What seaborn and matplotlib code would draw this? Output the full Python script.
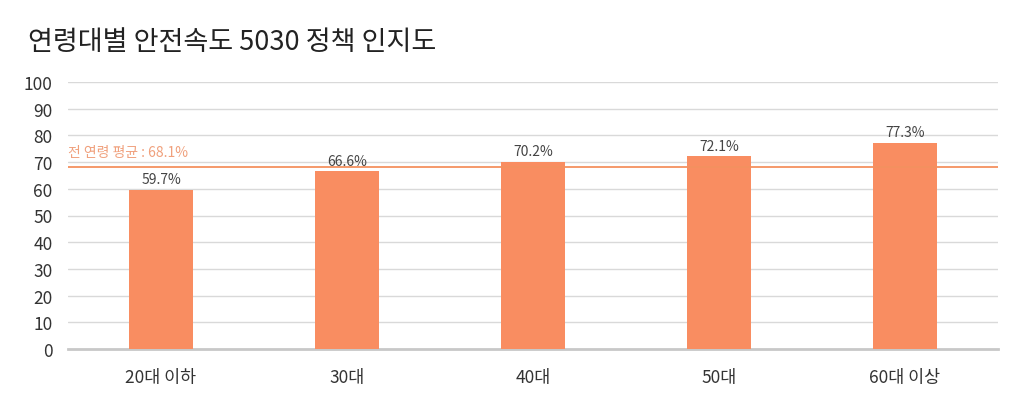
import pandas as pd
import seaborn as sns
import matplotlib.pyplot as plt

# 데이터
groups = ["20대 이하", "30대", "40대", "50대", "60대 이상"]
awareness = [59.7, 66.6, 70.2, 72.1, 77.3]
overall_avg = 68.1

df = pd.DataFrame({"group": groups, "value": awareness})

sns.set_theme(style="white")
plt.rcParams['font.family'] = ['Noto Sans CJK KR', 'DejaVu Sans']

fig = plt.figure(figsize=(10.24, 4.1), dpi=100)
ax = fig.add_axes([68 / 1024, 1 - 350 / 410, 930 / 1024, 267 / 410])

sns.barplot(x="group", y="value", data=df, color="#F98D61", saturation=1,
            width=0.345, linewidth=0, ax=ax, zorder=3)

ax.set_ylim(0, 100)
ax.set_xlim(-0.5, len(groups) - 0.5)
ax.set_yticks(range(0, 101, 10))
ax.yaxis.grid(True, color="#D9D9D9", linewidth=1, zorder=0)
ax.set_axisbelow(True)
for s in ["top", "right", "left"]:
    ax.spines[s].set_visible(False)
ax.spines["bottom"].set_color("#C8C8C8")
ax.spines["bottom"].set_linewidth(2)
ax.tick_params(axis="y", length=0, pad=11, labelsize=12.5, labelcolor="#333333")
ax.tick_params(axis="x", length=0, pad=14, labelsize=12.5, labelcolor="#333333")
ax.set_xlabel("")
ax.set_ylabel("")

# 막대 값 라벨
for i, v in enumerate(awareness):
    ax.text(i, v + 1.2, f"{v}%", ha="center", va="bottom", fontsize=10,
            color="#444444", zorder=4)

# 전 연령 평균선
ax.axhline(overall_avg, color="#F4915F", linewidth=1.3, zorder=4)
ax.text(-0.5, overall_avg + 3, f"전 연령 평균 : {overall_avg}%", ha="left",
        va="bottom", fontsize=10, color="#F0A07C")

fig.text(28 / 1024, 1 - 42 / 410, "연령대별 안전속도 5030 정책 인지도",
         ha="left", va="center", fontsize=19.5, color="#222222")

plt.savefig("out.png", dpi=100)
plt.close()
